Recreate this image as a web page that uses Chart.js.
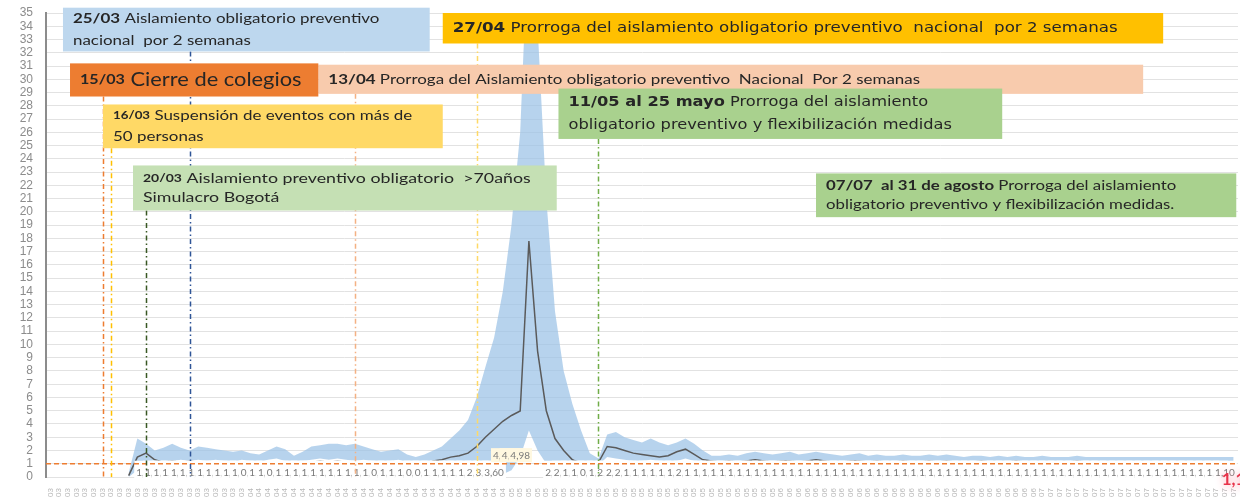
<!DOCTYPE html>
<html>
<head>
<meta charset="utf-8">
<script src="https://cdn.jsdelivr.net/npm/chart.js@4.4.1/dist/chart.umd.min.js"></script>
<style>
  html, body { margin: 0; padding: 0; background: #fff; }
</style>
</head>
<body>
<canvas id="rtChart" width="1240" height="497"></canvas>
<script>
// days from 09/03 to 23/07
const dayCount = 137;
const dates = [];
for (let i = 0; i < dayCount; i++) {
  const d = new Date(2020, 2, 9 + i);
  dates.push(String(d.getDate()).padStart(2, '0') + '/' + String(d.getMonth() + 1).padStart(2, '0'));
}

const yMax = 35;
const threshold = 1;

// Rt estimate (mean) and confidence band
const rtMean = [
  null, null, null, null, null, null, null, null, null,
  0.1, 1.5, 1.8, 1.3, 1.1, 1.2, 1.1, 1.2, 1.1, 1.1, 1.0,
  1.1, 1.1, 1.0, 0.9, 1.1, 1.0, 0.9, 1.1, 1.1, 1.0,
  1.1, 1.2, 1.1, 1.2, 1.1, 1.0, 1.1, 1.0, 0.9, 1.0,
  1.1, 1.0, 0.9, 0.9, 1.2, 1.3, 1.5, 1.6, 1.8, 2.3,
  3.0, 3.6, 4.2, 4.64, 4.98, 17.8, 9.5, 5.0, 2.9, 2.0,
  1.3, 1.0, 0.9, 1.1, 2.3, 2.2, 2.0, 1.8, 1.7, 1.6,
  1.5, 1.6, 1.9, 2.1, 1.7, 1.3, 1.2,
  1.1, 1.2, 1.1, 1.2, 1.3, 1.2, 1.1, 1.2, 1.2, 1.1,
  1.2, 1.3, 1.2, 1.1, 1.1, 1.2, 1.2, 1.1, 1.2, 1.1,
  1.1, 1.2, 1.1, 1.1, 1.2, 1.1, 1.2, 1.1, 1.1, 1.1,
  1.2, 1.1, 1.1, 1.1, 1.2, 1.1, 1.1, 1.1, 1.1, 1.1,
  1.1, 1.2, 1.1, 1.1, 1.1, 1.1, 1.1, 1.1, 1.1, 1.1,
  1.1, 1.1, 1.1, 1.1, 1.1, 1.1, 1.1, 1.1, 1.1, 1.12
];
const rtUpper = [
  null, null, null, null, null, null, null, null, null,
  0.3, 2.9, 2.5, 2.0, 2.2, 2.5, 2.2, 2.0, 2.3, 2.2, 2.1,
  2.0, 1.9, 2.0, 1.8, 1.7, 2.0, 2.3, 2.1, 1.6, 1.9,
  2.3, 2.4, 2.5, 2.5, 2.4, 2.5, 2.3, 2.1, 1.9, 2.0,
  2.1, 1.7, 1.5, 1.7, 2.0, 2.3, 2.9, 3.5, 4.3, 6.0,
  8.3, 10.5, 14, 19, 26, 42, 34, 21, 12.5, 8.0,
  5.5, 3.5, 1.8, 1.4, 3.2, 3.4, 3.0, 2.8, 2.6, 2.9,
  2.6, 2.4, 2.6, 2.9, 2.5, 2.0, 1.6,
  1.6, 1.7, 1.6, 1.8, 1.9, 1.8, 1.7, 1.8, 1.9, 1.7,
  1.8, 1.9, 1.8, 1.7, 1.6, 1.7, 1.8, 1.6, 1.7, 1.6,
  1.6, 1.7, 1.6, 1.6, 1.7, 1.6, 1.7, 1.6, 1.5, 1.6,
  1.6, 1.5, 1.6, 1.5, 1.6, 1.5, 1.5, 1.6, 1.5, 1.5,
  1.5, 1.6, 1.5, 1.5, 1.5, 1.5, 1.5, 1.5, 1.5, 1.5,
  1.5, 1.5, 1.5, 1.5, 1.5, 1.5, 1.5, 1.5, 1.5, 1.5
];
const rtLower = [
  null, null, null, null, null, null, null, null, null,
  0, 0.5, 0.9, 0.7, 0.8, 1.2, 1.3, 1.2, 1.3, 1.2, 1.3,
  1.2, 1.1, 1.3, 1.2, 1.1, 1.3, 1.4, 1.2, 1.1, 1.2,
  1.3, 1.4, 1.3, 1.4, 1.3, 1.2, 1.3, 1.2, 1.1, 1.2,
  1.3, 1.1, 1.0, 1.1, 1.2, 1.0, 0.8, 0.5, 0.3, 0.2,
  0.1, 0.1, 0.2, 0.5, 1.5, 3.5, 2.0, 1.0, 0.6, 0.5,
  0.5, 0.6, 0.7, 0.9, 1.5, 1.4, 1.3, 1.2, 1.2, 1.3,
  1.2, 1.1, 1.2, 1.4, 1.2, 1.1, 1.0,
  1.0, 1.1, 1.0, 1.1, 1.2, 1.1, 1.0, 1.1, 1.1, 1.0,
  1.1, 1.2, 1.1, 1.0, 1.0, 1.1, 1.1, 1.0, 1.1, 1.0,
  1.0, 1.1, 1.0, 1.0, 1.1, 1.0, 1.1, 1.0, 1.0, 1.0,
  1.1, 1.0, 1.0, 1.0, 1.1, 1.0, 1.0, 1.0, 1.0, 1.0,
  1.0, 1.1, 1.0, 1.0, 1.0, 1.0, 1.0, 1.0, 1.0, 1.0,
  1.0, 1.0, 1.0, 1.0, 1.0, 1.0, 1.0, 1.0, 1.0, 1.0
];

// dates of the measures, with the line colour
const eventLines = [
  { date: '15/03', color: '#ED7D31', top: 28.7 },
  { date: '16/03', color: '#FFC000', top: 24.8 },
  { date: '20/03', color: '#385723', top: 20.1 },
  { date: '25/03', color: '#2F5597', top: 32.1 },
  { date: '13/04', color: '#F4B183', top: 28.9 },
  { date: '27/04', color: '#FFD966', top: 32.7 },
  { date: '11/05', color: '#70AD47', top: 25.5 }
];

// text boxes (x in day index, y in Rt units), sx = horizontal text stretch
const notes = [
  { x0: 1.45, x1: 43.6, y0: 35.4, y1: 32.1, bg: '#BDD7EE', font: 'Lato', size: 14, gap: 22, sx: 1.21,
    lines: [[['25/03', 1], [' Aislamiento obligatorio preventivo', 0]], [['nacional  por 2 semanas', 0]]] },
  { x0: 45.1, x1: 127.9, y0: 35.0, y1: 32.7, bg: '#FFC000', font: 'DejaVu Sans', size: 14, gap: 20, sx: 1.19,
    lines: [[['27/04', 1], [' Prorroga del aislamiento obligatorio preventivo  nacional  por 2 semanas', 0]]] },
  { x0: 30.8, x1: 125.6, y0: 31.1, y1: 28.9, bg: '#F8CBAD', font: 'Lato', size: 14, gap: 20, sx: 1.21,
    lines: [[['13/04', 1], [' Prorroga del Aislamiento obligatorio preventivo  Nacional  Por 2 semanas', 0]]] },
  { x0: 2.26, x1: 30.8, y0: 31.2, y1: 28.7, bg: '#ED7D31', font: 'Lato', size: 19, gap: 20, sx: 1.15,
    lines: [[['15/03', 1, 14], [' Cierre de colegios', 0]]] },
  { x0: 6.05, x1: 45.1, y0: 28.1, y1: 24.8, bg: '#FFD966', font: 'Lato', size: 14, gap: 21, sx: 1.21,
    lines: [[['16/03', 1, 11], [' Suspensión de eventos con más de', 0]], [['50 personas', 0]]] },
  { x0: 58.4, x1: 109.4, y0: 29.3, y1: 25.5, bg: '#A9D18E', font: 'DejaVu Sans', size: 14, gap: 23, sx: 1.16,
    lines: [[['11/05 al 25 mayo', 1], [' Prorroga del aislamiento', 0]], [['obligatorio preventivo y flexibilización medidas', 0]]] },
  { x0: 9.5, x1: 58.2, y0: 23.5, y1: 20.1, bg: '#C5E0B4', font: 'Lato', size: 14, gap: 19, sx: 1.27,
    lines: [[['20/03', 1, 11], [' Aislamiento preventivo obligatorio  >70años', 0]], [['Simulacro Bogotá', 0]]] },
  { x0: 88.0, x1: 136.3, y0: 22.9, y1: 19.6, bg: '#A9D18E', font: 'Lato', size: 14, gap: 19, sx: 1.2,
    lines: [[['07/07  al 31 de agosto', 1], [' Prorroga del aislamiento', 0]], [['obligatorio preventivo y flexibilización medidas.', 0]]] }
];

const fmt = v => v.toFixed(2).replace('.', ',');

const notesPlugin = {
  id: 'notes',
  afterDatasetsDraw(chart) {
    const { ctx, chartArea, scales: { x, y } } = chart;
    ctx.save();

    // value labels (white boxes, each one covers the previous)
    ctx.font = '10px Lato';
    ctx.textAlign = 'center';
    ctx.textBaseline = 'middle';
    for (let i = 11; i < dayCount - 1; i++) {
      const v = rtMean[i];
      if (v === null || (v > 4 && i >= 55)) continue;
      const t = fmt(v);
      const px = x.getPixelForValue(i);
      const high = v > 4;
      const py = y.getPixelForValue(high ? 1.65 : 0.55);
      const h = high ? 14 : 18;
      const w = ctx.measureText(t).width + 4;
      ctx.fillStyle = high ? '#fff8e0' : '#ffffff';
      ctx.fillRect(px - w / 2, py - h / 2, w, h);
      ctx.fillStyle = '#7a7a7a';
      ctx.fillText(t, px, py + (high ? 0.5 : 3));
    }

    // last value in red
    const last = dayCount - 1;
    ctx.font = 'bold 17px Lato';
    ctx.textAlign = 'left';
    ctx.shadowColor = 'rgba(255,130,150,0.9)';
    ctx.shadowBlur = 8;
    ctx.fillStyle = '#E8334A';
    ctx.fillText(fmt(rtMean[last]), x.getPixelForValue(last) - 12, y.getPixelForValue(-0.2));
    ctx.shadowBlur = 0;

    // Rt = 1 reference
    const y1 = y.getPixelForValue(threshold);
    ctx.strokeStyle = '#ED7D31';
    ctx.lineWidth = 1.5;
    ctx.setLineDash([5, 3]);
    ctx.beginPath();
    ctx.moveTo(chartArea.left, y1);
    ctx.lineTo(chartArea.right, y1);
    ctx.stroke();

    // measure dates
    ctx.lineWidth = 1.5;
    ctx.setLineDash([5, 3, 1.5, 3]);
    eventLines.forEach(ev => {
      const px = Math.round(x.getPixelForValue(dates.indexOf(ev.date))) + 0.5;
      ctx.strokeStyle = ev.color;
      ctx.beginPath();
      ctx.moveTo(px, y.getPixelForValue(ev.top));
      ctx.lineTo(px, y.getPixelForValue(0));
      ctx.stroke();
    });
    ctx.setLineDash([]);

    // text boxes
    notes.forEach(n => {
      const l = x.getPixelForValue(n.x0), r = x.getPixelForValue(n.x1);
      const t = y.getPixelForValue(n.y0), b = y.getPixelForValue(n.y1);
      ctx.fillStyle = n.bg;
      ctx.fillRect(l, t, r - l, b - t);
      ctx.textAlign = 'left';
      ctx.textBaseline = 'middle';
      ctx.fillStyle = '#262626';
      const cy = (t + b) / 2 - (n.lines.length - 1) * n.gap / 2;
      n.lines.forEach((line, k) => {
        ctx.save();
        ctx.translate(l + 10, cy + k * n.gap);
        ctx.scale(n.sx, 1);
        let cx = 0;
        line.forEach(seg => {
          ctx.font = (seg[1] ? 'bold ' : '') + (seg[2] || n.size) + 'px "' + n.font + '"';
          ctx.fillText(seg[0], cx, 0);
          cx += ctx.measureText(seg[0]).width;
        });
        ctx.restore();
      });
    });

    ctx.restore();
  }
};

new Chart(document.getElementById('rtChart').getContext('2d'), {
  type: 'line',
  data: {
    labels: dates,
    datasets: [
      {
        label: 'Rt',
        data: rtMean,
        borderColor: '#5a5a5a',
        borderWidth: 1.5,
        pointRadius: 0,
        fill: false,
        order: 0
      },
      {
        label: 'Límite inferior',
        data: rtLower,
        borderColor: 'rgba(0,0,0,0)',
        borderWidth: 0,
        pointRadius: 0,
        fill: false,
        order: 2
      },
      {
        label: 'Límite superior',
        data: rtUpper,
        borderColor: 'rgba(0,0,0,0)',
        borderWidth: 0,
        pointRadius: 0,
        backgroundColor: 'rgba(155,194,230,0.72)',
        fill: 1,
        order: 1
      }
    ]
  },
  options: {
    responsive: false,
    animation: false,
    layout: { padding: { top: 13, right: 2, left: 0, bottom: 0 } },
    plugins: {
      legend: { display: false },
      tooltip: { enabled: false }
    },
    scales: {
      x: {
        offset: true,
        grid: { display: false },
        border: { display: false },
        ticks: {
          autoSkip: false,
          maxRotation: 90,
          minRotation: 90,
          padding: 3,
          color: '#b8b8b8',
          font: { size: 8, family: 'Liberation Sans' }
        },
        afterFit(scale) {
          scale.height = 20;
          scale.paddingLeft = 0;
          scale.paddingRight = 0;
        }
      },
      y: {
        min: 0,
        max: yMax,
        grid: { color: '#e2e2e2', drawTicks: false },
        border: { display: true, color: '#8c8c8c', width: 2 },
        ticks: {
          stepSize: 1,
          autoSkip: false,
          padding: 13,
          color: '#8c8c8c',
          font: { size: 12, family: 'Liberation Sans' }
        },
        afterFit(scale) {
          scale.width = 46;
          scale.paddingTop = 0;
          scale.paddingBottom = 0;
        }
      }
    }
  },
  plugins: [notesPlugin]
});
</script>
</body>
</html>
